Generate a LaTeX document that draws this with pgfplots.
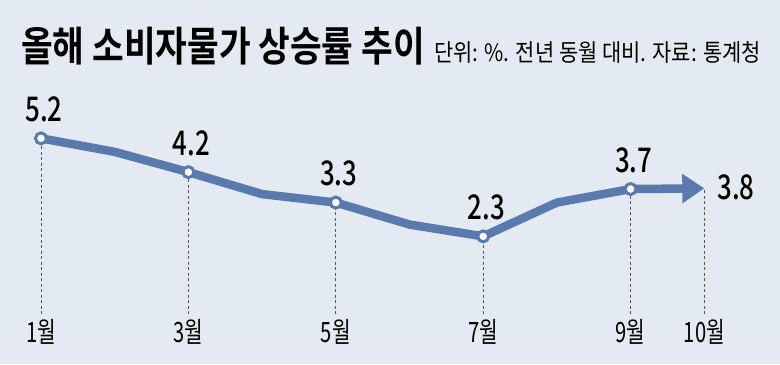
\documentclass[border=0pt]{standalone}
\usepackage{pgfplots}
\pgfplotsset{compat=1.18}
\usepackage{fontspec}
\usetikzlibrary{arrows.meta}
\newfontfamily\krtitle[FakeStretch=0.84]{Noto Sans CJK KR Bold}
\newfontfamily\krsub[FakeStretch=0.87]{Noto Sans CJK KR}
\newfontfamily\krtick[FakeStretch=0.72]{Noto Sans CJK KR}
\newfontfamily\krnum[FakeStretch=0.76]{Noto Sans CJK KR Medium}
\definecolor{bgc}{HTML}{E4EAF1}
\definecolor{linec}{HTML}{5A7AAD}
\definecolor{dashc}{HTML}{555555}
\begin{document}
\begin{tikzpicture}
\fill[bgc] (0pt,0pt) rectangle (780pt,364pt);
\node[anchor=base west, inner sep=0pt] at (21pt,303pt) {\fontsize{41}{41}\selectfont\krtitle 올해 소비자물가 상승률 추이};
\node[anchor=base west, inner sep=0pt] at (434pt,303pt) {\fontsize{24}{24}\selectfont\krsub 단위: \%. 전년 동월 대비. 자료: 통계청};
\begin{axis}[
  at={(0pt,50pt)}, anchor=south west,
  scale only axis, width=780pt, height=314pt,
  xmin=0.4437, xmax=11.027, ymin=0, ymax=9.29,
  axis line style={draw=none},
  major tick length=0pt,
  /pgf/number format/assume math mode=true,
  xtick={1,3,5,7,9,10},
  xticklabels={1월,3월,5월,7월,9월,10월},
  xticklabel={\krtick\tick},
  xticklabel style={font=\fontsize{28}{28}\selectfont\krtick, anchor=north, inner sep=0pt, yshift=-5pt},
  xticklabels={1월,3월,5월,7월,9월,10월},
  ytick=\empty,
  clip=false,
]
\addplot[ycomb, dashc, line width=0.9pt, dash pattern=on 3pt off 2.5pt, mark=none] coordinates {
  (1,5.2) (3,4.2) (5,3.3) (7,2.3) (9,3.7) (10,3.72)
};
\addplot[linec, line width=8.5pt, -{Triangle[width=28pt 0 0,length=22pt 0 0]}] coordinates {
  (9,3.7) (10,3.72)
};
\addplot[linec, line width=8.5pt, line join=round, mark=none] coordinates {
  (1,5.2) (2,4.8) (3,4.2) (4,3.55) (5,3.3) (6,2.65) (7,2.3) (8,3.3) (9,3.7)
};
\addplot[only marks, mark=*, mark size=5.5pt, mark options={draw=linec, fill=white, line width=3pt},
  nodes near coords, point meta=explicit symbolic,
  nodes near coords style={font=\fontsize{34}{34}\selectfont\krnum, text=black, anchor=south, inner sep=0pt, yshift=15pt, xshift=3pt}]
  table[meta=lab] {
x y lab
1 5.2 5.2
3 4.2 4.2
5 3.3 3.3
7 2.3 2.3
9 3.7 3.7
};
\addplot[only marks, mark=none, nodes near coords, point meta=explicit symbolic,
  nodes near coords style={font=\fontsize{34}{34}\selectfont\krnum, text=black, anchor=west, inner sep=0pt, xshift=13pt, yshift=1pt}]
  table[meta=lab] {
x y lab
10 3.72 3.8
};
\end{axis}
\end{tikzpicture}
\end{document}
